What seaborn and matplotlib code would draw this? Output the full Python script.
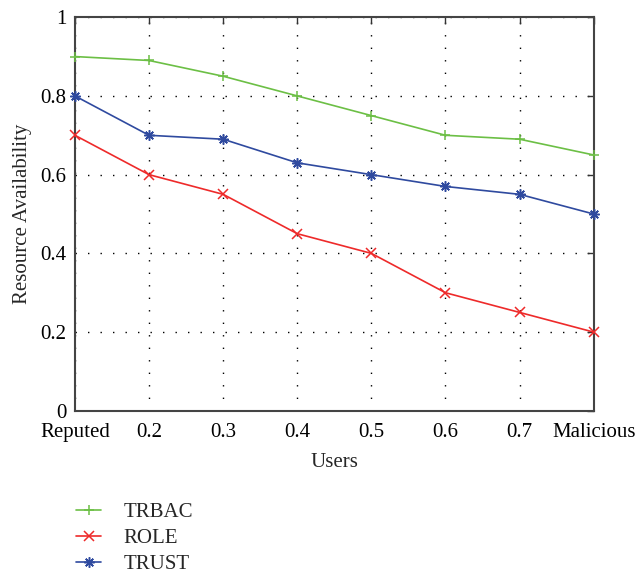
import matplotlib
matplotlib.use("Agg")
import matplotlib.pyplot as plt
import seaborn as sns
import pandas as pd

users = ["Reputed", "0.2", "0.3", "0.4", "0.5", "0.6", "0.7", "Malicious"]
trbac = [0.90, 0.89, 0.85, 0.80, 0.75, 0.70, 0.69, 0.65]
role = [0.70, 0.60, 0.55, 0.45, 0.40, 0.30, 0.25, 0.20]
trust = [0.80, 0.70, 0.69, 0.63, 0.60, 0.57, 0.55, 0.50]
yticks = [0, 0.2, 0.4, 0.6, 0.8, 1]
ytick_labels = ["0", "0.2", "0.4", "0.6", "0.8", "1"]

series = {"TRBAC": trbac, "ROLE": role, "TRUST": trust}
rows = []
for name, vals in series.items():
    for i, v in enumerate(vals):
        rows.append({"idx": i, "value": v, "series": name})
df = pd.DataFrame(rows)

sns.set_style("white")
plt.rcParams["font.family"] = ["Liberation Serif", "DejaVu Serif"]
plt.rcParams["font.size"] = 15

colors = {"TRBAC": "#6cbf45", "ROLE": "#ee2a2a", "TRUST": "#2f4a9f"}
markers = {"TRBAC": "+", "ROLE": "x", "TRUST": (8, 2, 0)}

fig = plt.figure(figsize=(6.35, 5.73), dpi=100)
ax = fig.add_axes([0.118, 0.283, 0.817, 0.687])

for name in ["TRBAC", "ROLE", "TRUST"]:
    sub = df[df["series"] == name]
    sns.lineplot(data=sub, x="idx", y="value", ax=ax, color=colors[name],
                 marker=markers[name], markersize=7.5, markeredgewidth=1.1,
                 markeredgecolor=colors[name], linewidth=1.2, label=name,
                 clip_on=False, zorder=3)

ax.set_xlim(0, len(users) - 1)
ax.set_ylim(0, 1)
ax.set_xticks(range(len(users)))
ax.set_xticklabels(users)
ax.set_yticks(yticks)
ax.set_yticklabels(ytick_labels)
ax.tick_params(direction="in", length=5, width=1, top=True, right=True,
               colors="#333333", labelcolor="black", labelsize=15)
ax.tick_params(axis="x", pad=9)
ax.tick_params(axis="y", pad=6)
ax.grid(True, color="black", linestyle=(0, (1, 8)), linewidth=1.0)
for s in ax.spines.values():
    s.set_color("#444444")
    s.set_linewidth(1.5)
ax.set_xlabel("Users", fontsize=15, labelpad=8)
ax.set_ylabel("Resource Availability", fontsize=15, labelpad=6)

handles, labels = ax.get_legend_handles_labels()
ax.get_legend().remove()
fig.legend(handles, labels, loc="upper left", bbox_to_anchor=(0.107, 0.137),
           frameon=False, fontsize=15, handlelength=1.2, handletextpad=1.05,
           labelspacing=0.3, borderaxespad=0)

fig.savefig("out.png", dpi=100)
